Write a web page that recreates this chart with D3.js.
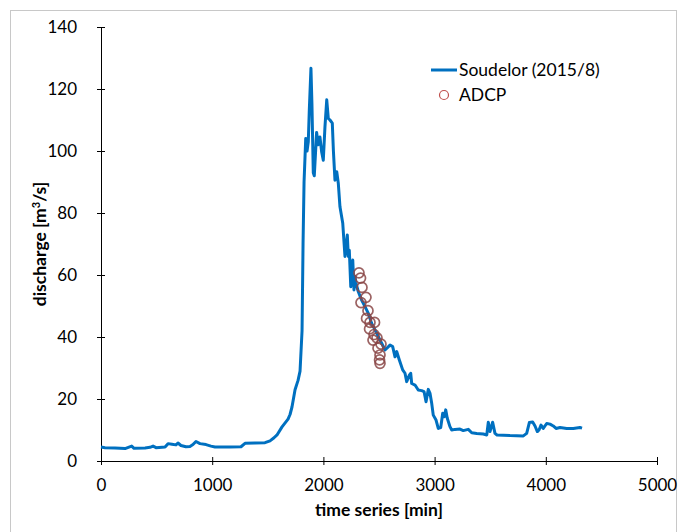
<!DOCTYPE html>
<html>
<head>
<meta charset="utf-8">
<script src="https://cdn.jsdelivr.net/npm/d3@7"></script>
<style>
  body { margin: 0; background: #fff; }
  svg { display: block; }
</style>
</head>
<body>
<div id="chart"></div>
<script>
// Discharge hydrograph, [time (min), discharge (m3/s)]
const soudelorTime = [0, 36, 126, 216, 276, 297, 396, 441, 468, 495, 576, 603, 638, 674, 692, 719, 764, 800, 827, 854,
  890, 944, 989, 1025, 1160, 1259, 1295, 1385, 1475, 1520, 1556, 1583, 1628, 1682, 1700, 1718, 1745, 1772, 1790, 1808,
  1817, 1826, 1841, 1853, 1864, 1873, 1888, 1897, 1909, 1918, 1939, 1954, 1969, 1984, 1999, 2014, 2030, 2044, 2059, 2080,
  2090, 2104, 2120, 2134, 2149, 2174, 2194, 2215, 2224, 2233, 2246, 2264, 2275, 2284, 2293, 2314, 2344, 2374, 2404, 2434,
  2464, 2494, 2524, 2554, 2599, 2623, 2644, 2659, 2683, 2713, 2734, 2749, 2773, 2785, 2794, 2824, 2853, 2884, 2905, 2923,
  2943, 2959, 2974, 2988, 3013, 3033, 3055, 3073, 3087, 3100, 3114, 3138, 3154, 3183, 3228, 3258, 3303, 3334, 3379, 3438,
  3469, 3483, 3498, 3522, 3543, 3561, 3678, 3798, 3828, 3852, 3882, 3903, 3924, 3939, 3957, 3977, 4008, 4038, 4067, 4092,
  4128, 4188, 4247, 4307, 4326];
const soudelorQ = [4.5, 4.3, 4.2, 4.0, 4.8, 4.1, 4.2, 4.4, 4.8, 4.3, 4.5, 5.6, 5.4, 5.2, 5.8, 5.0, 4.6, 4.7, 5.3, 6.3,
  5.6, 5.3, 4.8, 4.5, 4.5, 4.6, 5.7, 5.8, 5.9, 6.5, 7.5, 8.4, 11.0, 13.5, 15, 17.5, 23, 26, 29, 42,
  70, 90, 104, 100, 103, 113, 126.7, 115, 93, 92, 106, 102, 104.5, 99.8, 97, 107.8, 116.5, 110.5, 110, 109,
  100, 90.6, 93.3, 89.6, 82, 76.7, 66, 72.9, 66, 68, 56.2, 64.8, 55.2, 59.5, 57.4, 54.6, 51.9, 49.8, 47.6, 44.4,
  42.3, 40.1, 38, 35.8, 37.4, 36.9, 33.6, 35.3, 32.6, 29.4, 28.3, 25.6, 27.7, 28.3, 25, 24.5, 22.9, 22.7, 22.4, 19.1,
  23.1, 21.8, 18.6, 14.8, 13.2, 10.5, 10.8, 15.4, 14.3, 16.5, 13.8, 11.1, 10, 10.2, 10.3, 9.8, 10.2, 9.1, 8.9, 8.7,
  8.4, 12.5, 9.5, 12.5, 8.9, 8.4, 8.2, 8.1, 8.9, 12.4, 12.6, 11.3, 9.5, 10, 11.6, 10.5, 12.1, 11.9, 11.3, 10.5,
  10.8, 10.5, 10.5, 10.8, 10.6];

// ADCP measurements
const adcpTime = [2320, 2334, 2347, 2383, 2338, 2401, 2388, 2419, 2460, 2415, 2455, 2482, 2446, 2518, 2491, 2509, 2505, 2509];
const adcpQ = [60.7, 59.0, 56.0, 52.8, 51.1, 48.5, 46.0, 44.7, 44.7, 42.6, 40.8, 39.7, 39.0, 37.7, 36.4, 34.2, 32.6, 31.5];

const xTicks = [0, 1000, 2000, 3000, 4000, 5000];
const yTicks = [0, 20, 40, 60, 80, 100, 120, 140];

const legendLabels = ["Soudelor (2015/8)", "ADCP"];

const width = 679, height = 532;
const margin = { top: 27, right: 22, bottom: 71, left: 101 };
const font = "Lato, 'Open Sans', sans-serif";

const svg = d3.select("#chart").append("svg")
    .attr("width", width)
    .attr("height", height);

// chart frame
svg.append("rect")
    .attr("x", 10.5).attr("y", 10.5)
    .attr("width", 666).attr("height", 540)
    .attr("fill", "none")
    .attr("stroke", "#c8c8c8");

const x = d3.scaleLinear().domain([0, 5000]).range([margin.left, width - margin.right]);
const y = d3.scaleLinear().domain([0, 140]).range([height - margin.bottom, margin.top]);

// Axes with ticks crossing the line
const xAxis = svg.append("g")
    .attr("transform", `translate(0,${y(0)})`)
    .call(d3.axisBottom(x).tickValues(xTicks).tickFormat(d3.format("d"))
        .tickSize(4).tickSizeOuter(0).tickPadding(14));
xAxis.selectAll(".tick line").attr("y1", -4);

const yAxis = svg.append("g")
    .attr("transform", `translate(${x(0)},0)`)
    .call(d3.axisLeft(y).tickValues(yTicks).tickSize(4).tickSizeOuter(0).tickPadding(20));
yAxis.selectAll(".tick line").attr("x1", 4);

svg.selectAll(".tick text")
    .attr("font-family", font)
    .attr("font-size", 17)
    .attr("fill", "#000");

// Axis titles
svg.append("text")
    .attr("x", (x(0) + x(5000)) / 2)
    .attr("y", 516)
    .attr("text-anchor", "middle")
    .attr("font-family", font)
    .attr("font-size", 17.5)
    .attr("font-weight", "bold")
    .text("time series [min]");

svg.append("text")
    .attr("transform", `translate(46,${(y(0) + y(140)) / 2}) rotate(-90)`)
    .attr("text-anchor", "middle")
    .attr("font-family", font)
    .attr("font-size", 17.5)
    .attr("font-weight", "bold")
    .html("discharge [m<tspan dy='-6' font-size='11'>3</tspan><tspan dy='6'>/s]</tspan>");

// Hydrograph line
const series = soudelorTime.map((t, i) => [t, soudelorQ[i]]);
const line = d3.line().x(d => x(d[0])).y(d => y(d[1]));

svg.append("path")
    .datum(series)
    .attr("fill", "none")
    .attr("stroke", "#0070C0")
    .attr("stroke-width", 3)
    .attr("stroke-linejoin", "round")
    .attr("d", line);

// ADCP circles
const adcp = adcpTime.map((t, i) => [t, adcpQ[i]]);
svg.append("g")
    .selectAll("circle")
    .data(adcp)
    .join("circle")
    .attr("cx", d => x(d[0]))
    .attr("cy", d => y(d[1]))
    .attr("r", 5)
    .attr("fill", "none")
    .attr("stroke", "#8a4646")
    .attr("stroke-opacity", 0.85)
    .attr("stroke-width", 1.7);

// Legend
const legend = svg.append("g").attr("font-family", font).attr("font-size", 17.5);
legend.append("line")
    .attr("x1", 431).attr("x2", 457)
    .attr("y1", 70).attr("y2", 70)
    .attr("stroke", "#0070C0")
    .attr("stroke-width", 3);
legend.append("circle")
    .attr("cx", 444).attr("cy", 95).attr("r", 4.5)
    .attr("fill", "none")
    .attr("stroke", "#C0504D")
    .attr("stroke-width", 1.2);
legend.selectAll("text.lab")
    .data(legendLabels)
    .join("text")
    .attr("class", "lab")
    .attr("x", 459)
    .attr("y", (d, i) => 70 + i * 25)
    .attr("dy", "0.35em")
    .text(d => d);
</script>
</body>
</html>
